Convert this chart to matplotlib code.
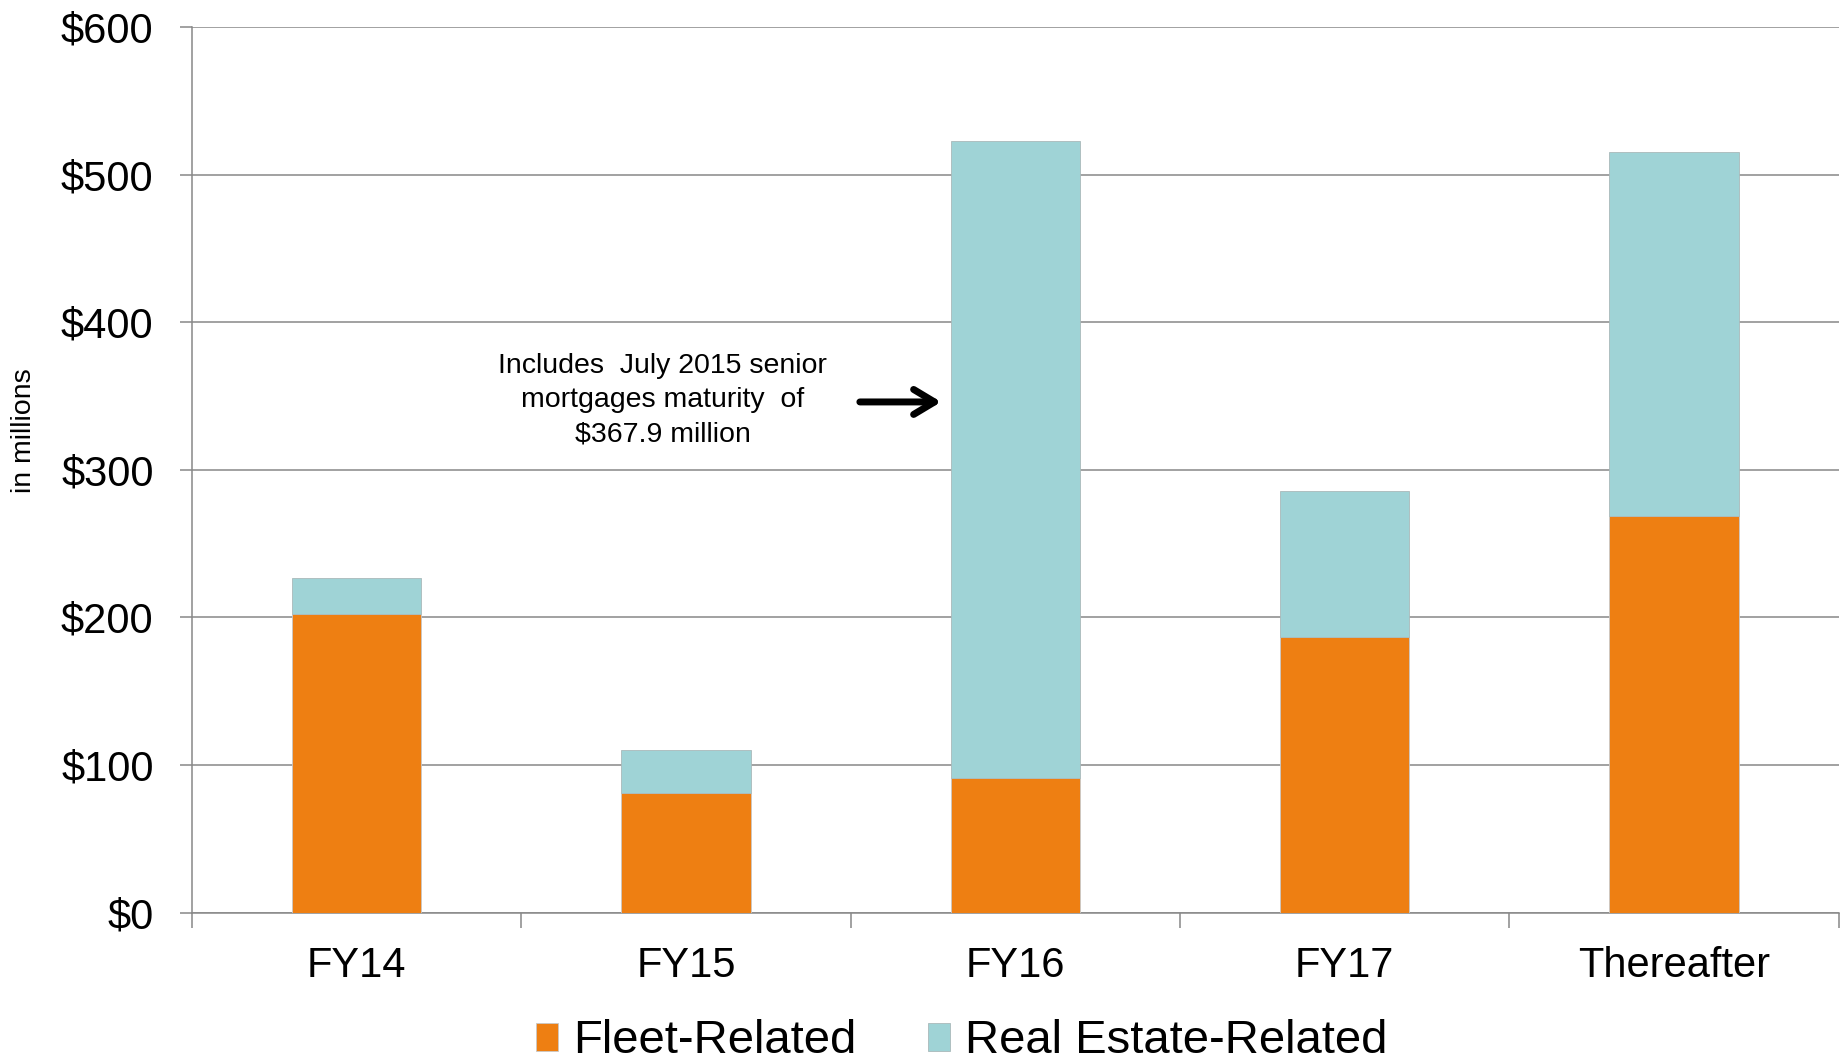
import matplotlib
matplotlib.use("Agg")
import matplotlib.pyplot as plt
import numpy as np

categories = ["FY14", "FY15", "FY16", "FY17", "Thereafter"]
fleet = [202, 81, 91, 187, 269]
real_estate = [25, 29, 432, 99, 246]
yticks = [0, 100, 200, 300, 400, 500, 600]
ytick_labels = ["$0", "$100", "$200", "$300", "$400", "$500", "$600"]
series_names = ["Fleet-Related", "Real Estate-Related"]
annotation = "Includes  July 2015 senior\nmortgages maturity  of\n$367.9 million"

plt.rcParams['font.family'] = ['Liberation Sans', 'DejaVu Sans']

fig = plt.figure(figsize=(18.46, 10.60), dpi=100)
ax = fig.add_axes([0.104, 0.139, 0.892, 0.8355])

x = np.arange(len(categories))
w = 0.393
orange = "#EE7F12"
teal = "#9FD3D6"
ax.bar(x, fleet, w, color=orange, edgecolor="#c8c8c8", linewidth=0.6, zorder=3, label=series_names[0])
ax.bar(x, real_estate, w, bottom=fleet, color=teal, edgecolor="#a9b9ba", linewidth=0.6, zorder=3, label=series_names[1])

ax.set_xlim(-0.5, len(categories) - 0.5)
ax.set_ylim(0, 600)
ax.set_yticks(yticks)
ax.set_yticklabels(ytick_labels, fontsize=30)
ax.set_xticks(x)
ax.set_xticklabels(categories, fontsize=30)
ax.set_xticks(np.arange(-0.5, len(categories)), minor=True)
ax.tick_params(axis='x', which='major', length=0, pad=24)
ax.tick_params(axis='x', which='minor', length=11, width=1.1, color="#888888", direction='out')
ax.tick_params(axis='y', length=8.6, width=1.1, color="#888888", pad=19)
ax.yaxis.grid(True, color="#888888", linewidth=1.1, zorder=0)
ax.set_axisbelow(True)
for s in ["top", "right"]:
    ax.spines[s].set_visible(False)
for s in ["left", "bottom"]:
    ax.spines[s].set_color("#888888")
    ax.spines[s].set_linewidth(1.1)

fig.text(24 / 1846, 1 - 431 / 1060, "in millions", rotation=90, fontsize=20.5,
         ha='center', va='center')

ax.text(0.93, 347, annotation, fontsize=20.5, ha='center', va='center',
        linespacing=1.42, zorder=5)
ax.annotate("", xy=(1.775, 346), xytext=(1.528, 346),
            arrowprops=dict(arrowstyle="->,head_length=1.5,head_width=0.9", lw=5, color="black",
                            shrinkA=0, shrinkB=0),
            zorder=5)

leg = fig.legend(loc='center', bbox_to_anchor=(0.521, 0.0175), ncol=2, frameon=False,
                 fontsize=34, handlelength=0.47, handleheight=0.53, handletextpad=0.32,
                 columnspacing=1.5, borderpad=0)

fig.savefig("out.png", dpi=100)
